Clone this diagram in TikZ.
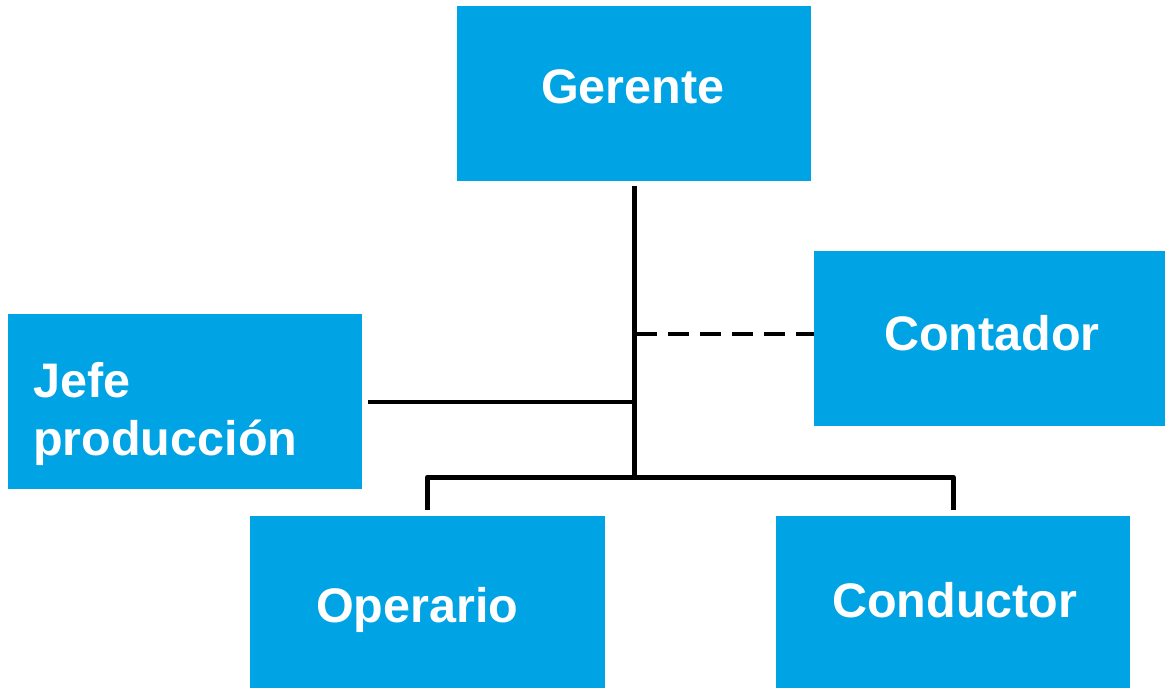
\documentclass[tikz,border=0pt]{standalone}
\usepackage{fontspec}
\setmainfont{Liberation Sans}
\begin{document}
\definecolor{boxblue}{RGB}{0,163,228}
\begin{tikzpicture}[x=1pt,y=-1pt,
  orgbox/.style={fill=boxblue, draw=none, inner sep=0pt,
    minimum width=354pt, minimum height=175pt},
  boxtext/.style={text=white, inner sep=0pt, anchor=base west,
    font=\fontsize{48.5}{58}\selectfont\bfseries},
  link/.style={line width=5pt},
  thinlink/.style={line width=3.5pt},
  staff/.style={line width=4.5pt, dash pattern=on 21pt off 11pt}]
  \useasboundingbox (0,0) rectangle (1165,688);
  % boxes
  \node[orgbox] (ger) at (634,93.5) {};
  \node[orgbox, minimum width=351pt] (cont) at (989.5,338.5) {};
  \node[orgbox] (jefe) at (185,401.5) {};
  \node[orgbox, minimum width=355pt] (op) at (427.5,603.5) {};
  \node[orgbox] (cond) at (953,603.5) {};
  % box titles
  \node[boxtext] (gert) at (541,103) {Gerente};
  \node[boxtext] (contt) at (884,350) {Contador};
  \node[boxtext] (jefet1) at (33,397) {Jefe};
  \node[boxtext] (jefet2) at (33,455) {producción};
  \node[boxtext] (opt) at (316,622) {Operario};
  \node[boxtext] (condt) at (832,617) {Conductor};
  % connector points
  \coordinate (hub) at (634,477);
  \coordinate (jj) at (634,402);
  \coordinate (dj) at (636,334);
  % vertical trunk from the manager
  \draw[link] ([yshift=-5pt]ger.south) -- (hub);
  % bus to the two lower boxes
  \draw[link, line join=round] ([yshift=6pt]op.north) |- (hub) -| ([yshift=6pt]cond.north);
  % line to the production head
  \draw[thinlink] (jj) -- ([xshift=6pt]jj -| jefe.east);
  % staff (advisory) link to the accountant
  \draw[staff] (dj) -- (dj -| cont.west);
\end{tikzpicture}
\end{document}
